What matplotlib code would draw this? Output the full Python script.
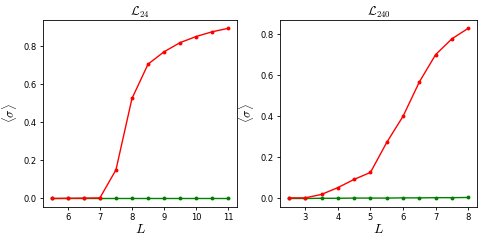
import matplotlib

matplotlib.use("Agg")
import matplotlib.pyplot as plt

plt.rcParams["mathtext.fontset"] = "cm"

# L_24 panel
x24 = [5.5, 6.0, 6.5, 7.0, 7.5, 8.0, 8.5, 9.0, 9.5, 10.0, 10.5, 11.0]
red24 = [0.0, 0.001, 0.002, 0.003, 0.15, 0.525, 0.705, 0.77, 0.818, 0.85, 0.875, 0.893]
green24 = [0.0, 0.0, 0.0, 0.0, 0.0, 0.0, 0.0, 0.0, 0.0, 0.0, 0.0, 0.0]

# L_240 panel
x240 = [2.5, 3.0, 3.5, 4.0, 4.5, 5.0, 5.5, 6.0, 6.5, 7.0, 7.5, 8.0]
red240 = [0.003, 0.003, 0.02, 0.053, 0.093, 0.127, 0.273, 0.4, 0.567, 0.7, 0.777, 0.828]
green240 = [0.0, 0.0, 0.001, 0.001, 0.002, 0.002, 0.002, 0.003, 0.003, 0.004, 0.004, 0.005]

fig = plt.figure(figsize=(4.82, 2.4), dpi=100)
ax1 = fig.add_axes([0.089, 0.1375, 0.403, 0.78])
ax2 = fig.add_axes([0.581, 0.1375, 0.409, 0.78])

for ax, x, r, g, title in [(ax1, x24, red24, green24, r"$\mathcal{L}_{24}$"),
                           (ax2, x240, red240, green240, r"$\mathcal{L}_{240}$")]:
    ax.plot(x, g, "o-", color="green", lw=1, ms=1.8)
    ax.plot(x, r, "o-", color="red", lw=1, ms=1.8)
    ax.set_title(title, fontsize=9, pad=3)
    ax.set_xlabel(r"$L$", fontsize=10, labelpad=0)
    ax.set_ylabel(r"$\langle \sigma \rangle$", fontsize=9, labelpad=3)
    ax.tick_params(labelsize=6, length=2.5, width=0.6, pad=2)
    for s in ax.spines.values():
        s.set_linewidth(0.6)

fig.savefig("out.png", dpi=100)
